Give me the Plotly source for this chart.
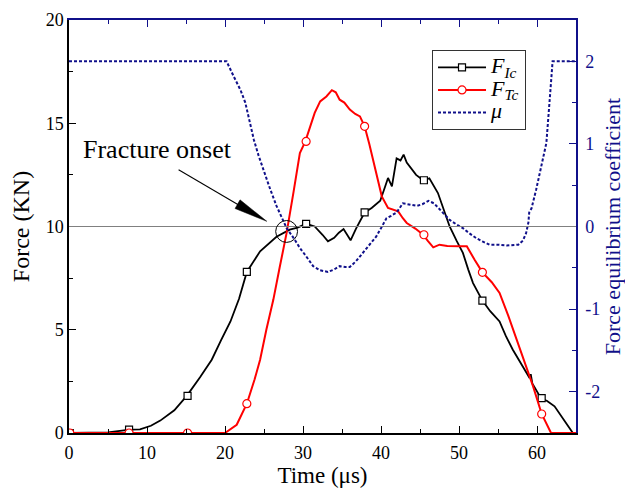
import plotly.graph_objects as go

# ---- data ----
t_ic = [0, 5, 7.8, 9.1, 10.5, 11.7, 13.5, 15.1, 16.8, 18.3, 19.5, 20.7, 21.8, 22.8, 24.5, 25.5, 26.6,
        28.3, 29.3, 30.4, 31.5, 32.5, 33.2, 34.0, 34.6, 35.2, 35.7, 36.1, 36.8, 37.9, 38.8, 39.9, 40.5,
        40.9, 41.4, 42.0, 42.5, 42.9, 43.3, 43.7, 44.5, 45.4, 46.2, 47.3, 48.0, 48.8, 49.7, 50.5, 51.2,
        51.8, 53.0, 54.0, 55.2, 56.0, 56.9, 58.0, 59.05, 59.2, 59.4, 60.5, 61.3, 62.25, 63.5, 64.6]
f_ic = [0, 0.03, 0.16, 0.18, 0.35, 0.6, 1.1, 1.8, 2.7, 3.55, 4.5, 5.4, 6.5, 7.8, 8.8, 9.15, 9.5,
        9.85, 9.95, 10.13, 10.0, 9.6, 9.28, 9.45, 9.7, 9.88, 9.6, 9.33, 9.9, 10.68, 10.9, 11.25, 11.9,
        12.35, 11.94, 13.3, 13.2, 13.48, 13.1, 12.9, 12.5, 12.24, 12.33, 11.62, 10.9, 10.0, 9.3, 8.72, 7.9,
        7.26, 6.41, 5.9, 5.4, 4.7, 4.03, 3.3, 2.66, 2.85, 2.4, 1.69, 1.55, 1.29, 0.6, 0]

t_tc = [0, 20.0, 21.5, 22.8, 23.8, 24.5, 25.3, 26.2, 27.0, 27.9, 28.8, 29.6, 30.3, 30.9, 31.5, 32.2,
        33.0, 33.7, 34.2, 34.7, 35.3, 36.0, 36.7, 37.3, 37.9, 38.5, 39.0, 39.5, 40.1, 40.9, 42.2, 42.8,
        43.3, 44.4, 45.4, 46.0, 46.7, 47.5, 48.5, 50.1, 51.0, 52.0, 53.0, 54.2, 55.2, 56.3, 57.4, 58.5,
        59.5, 60.6, 61.8, 65]
f_tc = [0, 0, 0.4, 1.42, 2.6, 3.55, 5.0, 6.46, 8.0, 9.69, 11.7, 13.56, 14.12, 14.85, 15.5, 16.06,
        16.3, 16.6, 16.5, 16.14, 16.0, 15.66, 15.45, 15.33, 14.85, 14.0, 13.24, 12.4, 11.46, 10.9, 10.73, 10.4,
        10.17, 9.9, 9.6, 9.3, 8.99, 9.12, 9.06, 9.04, 9.04, 8.39, 7.78, 7.3, 6.78, 5.7, 4.52, 3.4,
        2.26, 0.92, 0, 0]

t_mu = [0, 20.2, 21.1, 22.0, 22.6, 23.1, 23.7, 24.3, 24.9, 25.8, 26.6, 27.3, 27.9, 28.8, 29.6, 30.4,
        31.3, 32.2, 33.2, 34.0, 34.7, 35.4, 36.0, 36.8, 37.7, 38.5, 39.4, 40.0, 40.7, 41.3, 42.0, 42.8,
        43.6, 44.6, 45.3, 46.1, 46.8, 47.5, 48.1, 48.8, 49.6, 50.5, 51.3, 52.2, 53.0, 53.9, 55.0, 56.1,
        57.6, 58.2, 58.6, 58.9, 59.0, 59.3, 59.9, 60.5, 61.2, 61.6, 62.0, 65]
mu = [2.0, 2.0, 1.82, 1.65, 1.5, 1.3, 1.05, 0.86, 0.69, 0.45, 0.25, 0.1, -0.02, -0.14, -0.26, -0.36,
      -0.48, -0.53, -0.55, -0.52, -0.48, -0.49, -0.49, -0.42, -0.32, -0.22, -0.12, -0.02, 0.1, 0.13, 0.17, 0.28,
      0.27, 0.25, 0.27, 0.31, 0.28, 0.21, 0.14, 0.08, 0.03, -0.02, -0.08, -0.14, -0.18, -0.22, -0.22, -0.23,
      -0.22, -0.17, -0.08, 0.05, 0.17, 0.22, 0.45, 0.7, 1.01, 1.5, 2.0, 2.0]

t_marks = [0.1, 7.7, 15.2, 22.8, 30.4, 37.9, 45.5, 53.0, 60.6]
f_ic_marks = [0, 0.16, 1.8, 7.8, 10.13, 10.68, 12.24, 6.41, 1.69]
f_tc_marks = [0, 0, 0, 1.42, 14.12, 14.85, 9.6, 7.78, 0.92]

x_ticks = [0, 10, 20, 30, 40, 50, 60]
y_ticks = [0, 5, 10, 15, 20]
mu_ticks = [-2, -1, 0, 1, 2]
mu_tick_labels = ["-2", "-1", "0", "1", "2"]

# ---- styling ----
FONT = "Times New Roman, Liberation Serif, serif"
NAVY = "#10108a"
BLACK = "#000000"
RED = "#ff0000"
DASH = "3px,2px"

fig = go.Figure()

fig.add_trace(go.Scatter(x=t_ic, y=f_ic, mode="lines", line=dict(color=BLACK, width=1.8),
                         showlegend=False, xaxis="x", yaxis="y"))
fig.add_trace(go.Scatter(x=t_marks, y=f_ic_marks, mode="markers",
                         marker=dict(symbol="square", size=7, color="white",
                                     line=dict(color=BLACK, width=1.2)),
                         showlegend=False, xaxis="x", yaxis="y"))
fig.add_trace(go.Scatter(x=t_tc, y=f_tc, mode="lines", line=dict(color=RED, width=2),
                         showlegend=False, xaxis="x", yaxis="y"))
fig.add_trace(go.Scatter(x=t_marks, y=f_tc_marks, mode="markers",
                         marker=dict(symbol="circle", size=8, color="white",
                                     line=dict(color=RED, width=1.2)),
                         showlegend=False, xaxis="x", yaxis="y"))
fig.add_trace(go.Scatter(x=t_mu, y=mu, mode="lines", line=dict(color=NAVY, width=2, dash=DASH),
                         showlegend=False, xaxis="x2", yaxis="y2"))

# legend entries
def leg(txt):
    return "<span style='font-size:22px'>" + txt + "</span>"

fig.add_trace(go.Scatter(x=[None], y=[None], mode="lines+markers",
                         name=leg("<i>F</i><sub><i>Ic</i></sub>"),
                         line=dict(color=BLACK, width=1.8),
                         marker=dict(symbol="square", size=7, color="white", line=dict(color=BLACK, width=1.2))))
fig.add_trace(go.Scatter(x=[None], y=[None], mode="lines+markers",
                         name=leg("<i>F</i><sub><i>Tc</i></sub>"),
                         line=dict(color=RED, width=2),
                         marker=dict(symbol="circle", size=8, color="white", line=dict(color=RED, width=1.2))))
fig.add_trace(go.Scatter(x=[None], y=[None], mode="lines", name=leg("<i>μ</i>"),
                         line=dict(color=NAVY, width=2, dash=DASH)))

tick_common = dict(ticks="inside", ticklen=7, tickwidth=1,
                   minor=dict(ticks="inside", ticklen=4, tickwidth=1),
                   showgrid=False, zeroline=False, automargin=False)

# page body has an 8px margin, so the figure is drawn 8px in from the top-left corner
fig.update_layout(
    width=625, height=480,
    margin=dict(l=60.5, r=56.5, t=12, b=54.7),
    paper_bgcolor="white", plot_bgcolor="white",
    font=dict(family=FONT, size=18, color="black"),
    xaxis=dict(range=[0, 65], tickvals=x_ticks, showline=True, linecolor=BLACK, linewidth=1.5,
               tickcolor=BLACK, minor_dtick=5, minor_tickcolor=BLACK, ticklabelstandoff=3,
               title=dict(text="Time (μs)", font=dict(size=23), standoff=2), **tick_common),
    yaxis=dict(range=[0, 20], tickvals=y_ticks, showline=True, linecolor=BLACK, linewidth=1.5,
               tickcolor=BLACK, minor_dtick=2.5, minor_tickcolor=BLACK,
               title=dict(text="Force (KN)", font=dict(size=24, color=BLACK), standoff=12), **tick_common),
    xaxis2=dict(range=[0, 65], overlaying="x", side="top", anchor="y2", showticklabels=False,
                tickvals=x_ticks, showline=True, linecolor=NAVY, linewidth=1.5, tickcolor=NAVY,
                minor_dtick=5, minor_tickcolor=NAVY, **tick_common),
    yaxis2=dict(range=[-2.5, 2.5], overlaying="y", side="right", anchor="x2", tickvals=mu_ticks,
                ticktext=mu_tick_labels, ticklabelstandoff=4,
                showline=True, linecolor=NAVY, linewidth=1.5, tickcolor=NAVY,
                minor_dtick=0.5, minor_tickcolor=NAVY, tickfont=dict(color=NAVY),
                title=dict(text="Force equilibrium coefficient", font=dict(size=22, color=NAVY), standoff=5),
                **tick_common),
    legend=dict(x=0.716, y=0.927, xanchor="left", yanchor="top", bgcolor="white",
                bordercolor="#333333", borderwidth=1, font=dict(size=15), tracegroupgap=0,
                itemwidth=48),
    showlegend=True,
)

fig.add_shape(type="line", xref="x", yref="y", x0=0, x1=65, y0=10, y1=10,
              line=dict(color="#808080", width=1))
fig.add_shape(type="circle", xref="x", yref="y", x0=26.5, x1=29.3, y0=9.23, y1=10.29,
              line=dict(color=BLACK, width=1))
# arrow: shaft + slender filled head
fig.add_shape(type="line", xref="x", yref="y", x0=14.05, y0=12.75, x1=21.7, y1=11.05,
              line=dict(color=BLACK, width=1.1))
fig.add_shape(type="path", xref="x", yref="y",
              path="M 25.36 10.25 L 21.29 10.87 L 21.93 11.29 Z",
              fillcolor=BLACK, line=dict(color=BLACK, width=0.5))
fig.add_annotation(x=11.3, y=13.72, xref="x", yref="y", text="Fracture onset", showarrow=False,
                   font=dict(size=26, color=BLACK))

fig.write_html("out.html")
